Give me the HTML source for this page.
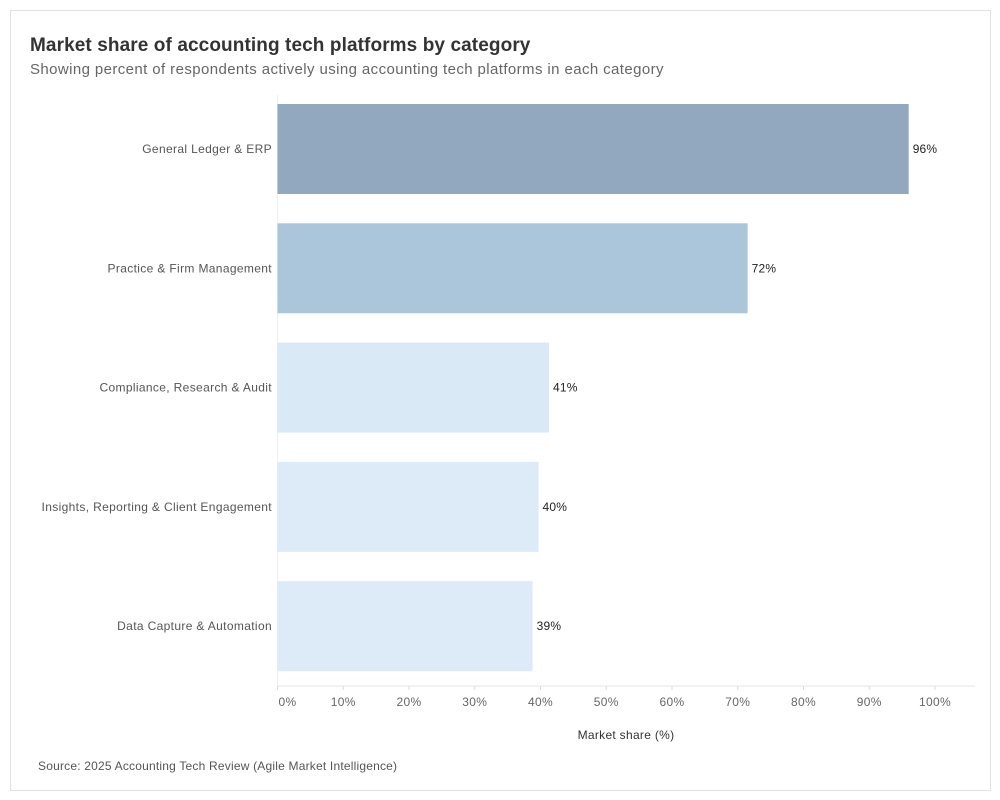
<!DOCTYPE html>
<html><head><meta charset="utf-8"><style>
body{margin:0;background:#fff;font-family:"Liberation Sans",sans-serif;}
#frame{position:absolute;left:10px;top:10px;width:979px;height:779px;border:1px solid #e2e2e2;}
.t{position:absolute;white-space:nowrap;}
</style></head><body>
<div id="frame"></div>
<div class="t" style="left:30px;top:35px;font-size:19px;font-weight:bold;color:#333;letter-spacing:0.1px;">Market share of accounting tech platforms by category</div>
<div class="t" style="left:30px;top:61px;font-size:15px;color:#666;letter-spacing:0.4px;">Showing percent of respondents actively using accounting tech platforms in each category</div>
<svg id="chart" width="1000" height="800" style="position:absolute;left:0;top:0"></svg>
<div class="t" style="left:38px;top:759px;font-size:12px;color:#555;letter-spacing:0.2px;">Source: 2025 Accounting Tech Review (Agile Market Intelligence)</div>
<script>
const categories=["General Ledger & ERP","Practice & Firm Management","Compliance, Research & Audit","Insights, Reporting & Client Engagement","Data Capture & Automation"];
const values=[96.0,71.5,41.3,39.7,38.8];
const labels=["96%","72%","41%","40%","39%"];
const colors=["#92a8bf","#abc5da","#d9eaf6","#dcebf7","#dcebf7"];
const ticks=[0,10,20,30,40,50,60,70,80,90,100];
const svg=document.getElementById('chart');
const NS='http://www.w3.org/2000/svg';
const x0=277.5, pxPer=6.575;
const xs=v=>x0+v*pxPer;
const rowTop=104, rowStep=119.3, barH=90;
function mk(tag,attrs){const e=document.createElementNS(NS,tag);for(const k in attrs)e.setAttribute(k,attrs[k]);svg.appendChild(e);return e;}
let a=mk('line',{x1:x0,y1:95,x2:x0,y2:686,stroke:'#eee'});


a=mk('line',{x1:x0,y1:686,x2:975,y2:686,stroke:'#e6e6e6'});


ticks.forEach((t,i)=>{
  const x=xs(t);
  const tk=mk('line',{x1:x,y1:686,x2:x,y2:690,stroke:'#ddd'});
  
  
  const tx=mk('text',{x:i===0?x+1:x,y:706,'font-size':12,fill:'#666','letter-spacing':0.3,'text-anchor':i===0?'start':'middle'});
  tx.textContent=t+'%';
  
  
});
const xt=mk('text',{x:626,y:739,'font-size':12,fill:'#333','text-anchor':'middle','letter-spacing':0.3});
xt.textContent='Market share (%)';


categories.forEach((c,i)=>{
  const y=rowTop+i*rowStep;
  const r=mk('rect',{x:x0,y:y,width:xs(values[i])-x0,height:barH,fill:colors[i]});
  
  
  const l=mk('text',{x:272,y:y+barH/2+4,'font-size':12,fill:'#555','text-anchor':'end','letter-spacing':0.35});
  l.textContent=c;
  
  
  const v=mk('text',{x:xs(values[i])+4,y:y+barH/2+4,'font-size':12,fill:'#222','letter-spacing':0.2});
  v.textContent=labels[i];
  
  
});
</script>
</body></html>
